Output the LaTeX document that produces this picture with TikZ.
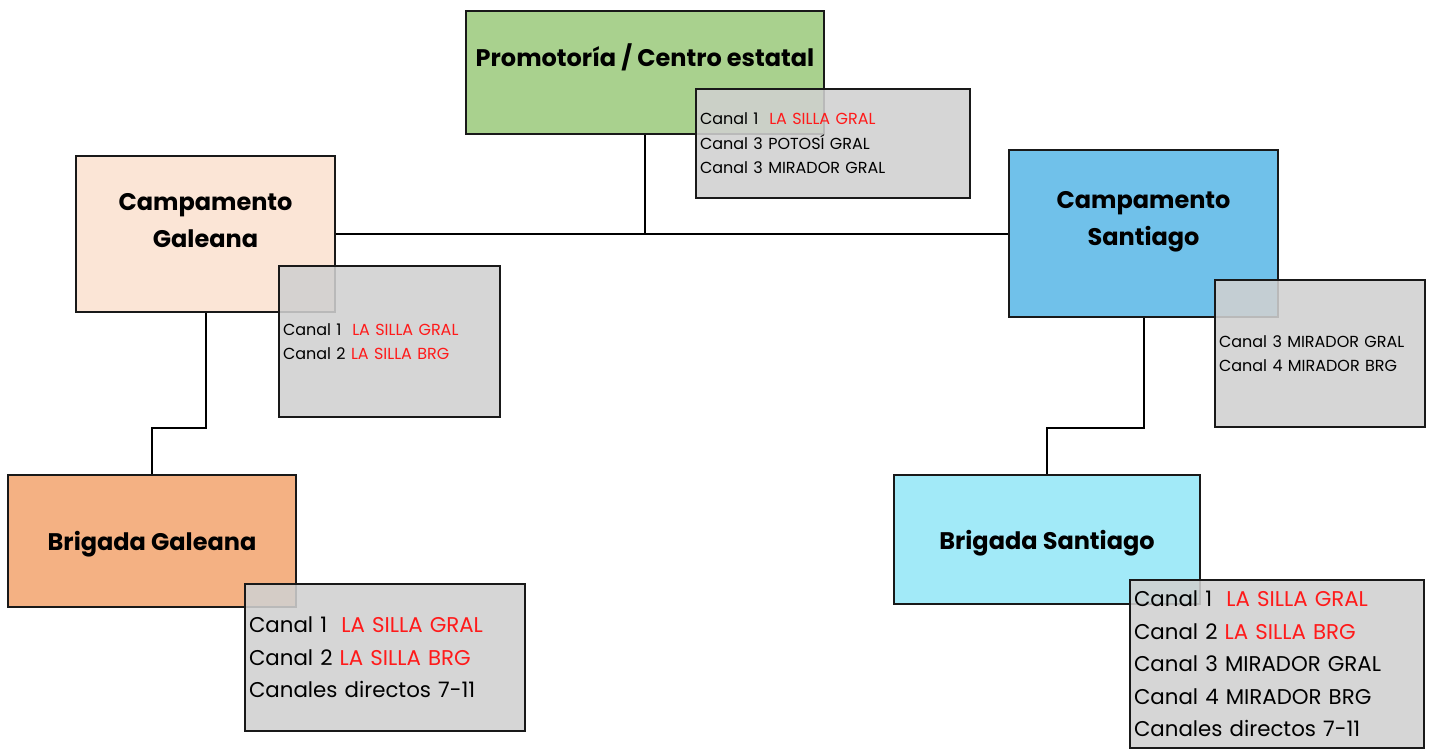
\documentclass[tikz,border=0pt]{standalone}
\usepackage{fontspec}
\setmainfont{Poppins}
\definecolor{promgreen}{HTML}{A9D18E}
\definecolor{galpeach}{HTML}{FBE5D6}
\definecolor{santblue}{HTML}{70C1EA}
\definecolor{brigorange}{HTML}{F4B183}
\definecolor{brigcyan}{HTML}{A2EAF8}
\definecolor{boxgray}{HTML}{D0D0D0}
\definecolor{silla}{HTML}{FF1A1A}
\newcommand\rd[1]{\textcolor{silla}{#1}}
\begin{document}
\begin{tikzpicture}[x=0.75pt,y=-0.75pt,
  cbox/.style={draw=black!90, line width=1.8pt, inner sep=0pt},
  gbox/.style={draw=black!90, line width=1.8pt, fill=boxgray, fill opacity=0.88, text opacity=1, align=left, inner xsep=3pt, inner ysep=0pt},
  head/.style={font=\fontsize{18}{28}\selectfont\bfseries, align=center, inner sep=0pt},
  small/.style={font=\fontsize{12}{18.4}\selectfont},
  big/.style={font=\fontsize{16}{24.4}\selectfont},
  conn/.style={line width=1.5pt, draw=black}
]
\useasboundingbox (0,0) rectangle (1434,751);
% coloured boxes
\node[cbox, fill=promgreen, minimum width=268.5pt, minimum height=92.25pt] (prom) at (645,72.5) {};
\node[cbox, fill=galpeach, minimum width=194.25pt, minimum height=117pt] (cg) at (205.5,234) {};
\node[cbox, fill=santblue, minimum width=201.75pt, minimum height=125.25pt] (cs) at (1143.5,233.5) {};
\node[cbox, fill=brigorange, minimum width=216pt, minimum height=99pt] (bg) at (152,541) {};
\node[cbox, fill=brigcyan, minimum width=229.5pt, minimum height=96.75pt] (bs) at (1047,539.5) {};
% titles
\node[head] (promt) at (645,57) {Promotoría / Centro estatal};
\node[head] (cgt) at (205.5,220.5) {Campamento\\Galeana};
\node[head] (cst) at (1143.5,221.5) {Campamento\\Santiago};
\node[head] (bgt) at (152,544) {Brigada Galeana};
\node[head] (bst) at (1047,543) {Brigada Santiago};
% connectors
\coordinate (j) at (645,234);
\coordinate (mg) at (152,428);
\coordinate (ms) at (1047,428);
\draw[conn] (prom.south) -- (j);
\draw[conn] (cg.east) -- (cg.east -| cs.west);
\draw[conn] (cg.south) |- (mg) -- (bg.north);
\draw[conn] (cs.south) |- (ms) -- (bs.north);
% grey channel boxes
\node[gbox, small, text width=199.5pt, minimum height=81.75pt] (g1) at (833,143.5)
  {Canal 1\ \ \rd{LA SILLA GRAL}\\Canal 3 POTOSÍ GRAL\\Canal 3 MIRADOR GRAL};
\node[gbox, small, text width=159.75pt, minimum height=113.25pt] (g2) at (389.5,341.5)
  {Canal 1\ \ \rd{LA SILLA GRAL}\\Canal 2 \rd{LA SILLA BRG}};
\node[gbox, small, text width=151.5pt, minimum height=110.25pt] (g3) at (1320,353.5)
  {Canal 3 MIRADOR GRAL\\Canal 4 MIRADOR BRG};
\node[gbox, big, text width=204pt, minimum height=110.25pt] (g4) at (385,657.5)
  {Canal 1\ \ \rd{LA SILLA GRAL}\\Canal 2 \rd{LA SILLA BRG}\\Canales directos 7-11};
\node[gbox, big, text width=214.5pt, minimum height=126pt] (g5) at (1277,664)
  {Canal 1\ \ \rd{LA SILLA GRAL}\\Canal 2 \rd{LA SILLA BRG}\\Canal 3 MIRADOR GRAL\\Canal 4 MIRADOR BRG\\Canales directos 7-11};
\end{tikzpicture}
\end{document}
